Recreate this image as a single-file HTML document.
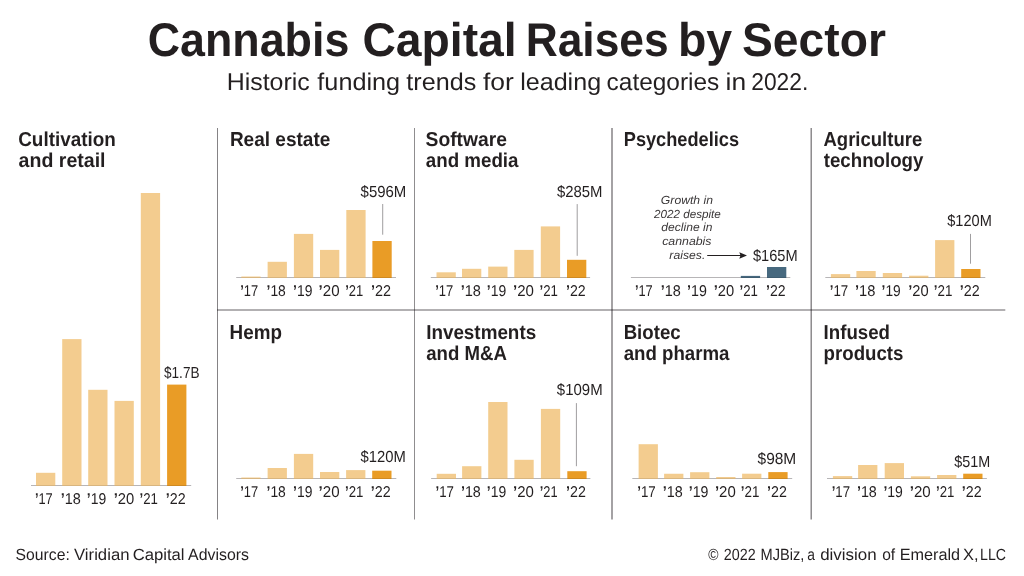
<!DOCTYPE html>
<html><head><meta charset="utf-8"><style>
html,body{margin:0;padding:0;background:#fff;width:1024px;height:576px;overflow:hidden}
#w{opacity:0.99;will-change:opacity;width:1024px;height:576px}
svg{display:block}
text{font-family:"Liberation Sans",sans-serif;text-rendering:geometricPrecision;fill:#211d1e}
</style></head><body>
<div id="w"><svg width="1024" height="576" viewBox="0 0 1024 576">
<rect x="217.00" y="128.00" width="1.00" height="391.50" fill="#848284"/>
<rect x="414.00" y="128.00" width="1.00" height="391.50" fill="#8e8c8e"/>
<rect x="611.00" y="128.00" width="2.00" height="391.50" fill="#a3a1a3"/>
<rect x="810.00" y="128.00" width="1.00" height="391.50" fill="#c3c1c3"/>
<rect x="811.00" y="128.00" width="1.00" height="391.50" fill="#8e8c8e"/>
<rect x="217.00" y="309.00" width="788.30" height="2.00" fill="#b2b0b2" style="mix-blend-mode:multiply"/>
<rect x="36.00" y="472.80" width="19.30" height="12.20" fill="#f3cc8e"/>
<rect x="62.20" y="339.10" width="19.30" height="145.90" fill="#f3cc8e"/>
<rect x="88.20" y="389.80" width="19.30" height="95.20" fill="#f3cc8e"/>
<rect x="114.50" y="400.90" width="19.30" height="84.10" fill="#f3cc8e"/>
<rect x="140.80" y="193.00" width="19.30" height="292.00" fill="#f3cc8e"/>
<rect x="167.10" y="384.60" width="19.30" height="100.40" fill="#e99b24"/>
<rect x="31.00" y="485.00" width="160.20" height="1.00" fill="#b7b5b7"/>
<rect x="36.00" y="485.00" width="19.30" height="1.00" fill="#d8b57e"/>
<rect x="62.20" y="485.00" width="19.30" height="1.00" fill="#d8b57e"/>
<rect x="88.20" y="485.00" width="19.30" height="1.00" fill="#d8b57e"/>
<rect x="114.50" y="485.00" width="19.30" height="1.00" fill="#d8b57e"/>
<rect x="140.80" y="485.00" width="19.30" height="1.00" fill="#d8b57e"/>
<rect x="167.10" y="485.00" width="19.30" height="1.00" fill="#cf8920"/>
<rect x="241.30" y="276.50" width="19.30" height="0.50" fill="#f3cc8e"/>
<rect x="267.60" y="261.80" width="19.30" height="15.20" fill="#f3cc8e"/>
<rect x="293.90" y="233.90" width="19.30" height="43.10" fill="#f3cc8e"/>
<rect x="320.00" y="249.90" width="19.30" height="27.10" fill="#f3cc8e"/>
<rect x="346.30" y="210.00" width="19.30" height="67.00" fill="#f3cc8e"/>
<rect x="372.40" y="241.00" width="19.30" height="36.00" fill="#e99b24"/>
<rect x="236.20" y="277.00" width="159.80" height="1.00" fill="#b7b5b7"/>
<rect x="241.30" y="277.00" width="19.30" height="1.00" fill="#d8b57e"/>
<rect x="267.60" y="277.00" width="19.30" height="1.00" fill="#d8b57e"/>
<rect x="293.90" y="277.00" width="19.30" height="1.00" fill="#d8b57e"/>
<rect x="320.00" y="277.00" width="19.30" height="1.00" fill="#d8b57e"/>
<rect x="346.30" y="277.00" width="19.30" height="1.00" fill="#d8b57e"/>
<rect x="372.40" y="277.00" width="19.30" height="1.00" fill="#cf8920"/>
<rect x="382.20" y="204.00" width="1.00" height="30.70" fill="#9f9d9f"/>
<rect x="436.50" y="272.30" width="19.30" height="4.70" fill="#f3cc8e"/>
<rect x="462.00" y="268.80" width="19.30" height="8.20" fill="#f3cc8e"/>
<rect x="488.20" y="266.60" width="19.30" height="10.40" fill="#f3cc8e"/>
<rect x="514.30" y="249.90" width="19.30" height="27.10" fill="#f3cc8e"/>
<rect x="540.80" y="226.40" width="19.30" height="50.60" fill="#f3cc8e"/>
<rect x="567.00" y="259.80" width="19.30" height="17.20" fill="#e99b24"/>
<rect x="430.80" y="277.00" width="159.30" height="1.00" fill="#b7b5b7"/>
<rect x="436.50" y="277.00" width="19.30" height="1.00" fill="#d8b57e"/>
<rect x="462.00" y="277.00" width="19.30" height="1.00" fill="#d8b57e"/>
<rect x="488.20" y="277.00" width="19.30" height="1.00" fill="#d8b57e"/>
<rect x="514.30" y="277.00" width="19.30" height="1.00" fill="#d8b57e"/>
<rect x="540.80" y="277.00" width="19.30" height="1.00" fill="#d8b57e"/>
<rect x="567.00" y="277.00" width="19.30" height="1.00" fill="#cf8920"/>
<rect x="576.70" y="204.10" width="1.00" height="51.70" fill="#9f9d9f"/>
<rect x="740.80" y="275.90" width="19.30" height="1.10" fill="#45687e"/>
<rect x="767.00" y="267.00" width="19.30" height="10.00" fill="#45687e"/>
<rect x="630.90" y="277.00" width="159.40" height="1.00" fill="#b7b5b7"/>
<rect x="740.80" y="277.00" width="19.30" height="1.00" fill="#3d5c70"/>
<rect x="767.00" y="277.00" width="19.30" height="1.00" fill="#3d5c70"/>
<rect x="830.90" y="274.10" width="19.30" height="2.90" fill="#f3cc8e"/>
<rect x="856.40" y="271.00" width="19.30" height="6.00" fill="#f3cc8e"/>
<rect x="882.80" y="273.00" width="19.30" height="4.00" fill="#f3cc8e"/>
<rect x="909.10" y="275.70" width="19.30" height="1.30" fill="#f3cc8e"/>
<rect x="935.10" y="240.10" width="19.30" height="36.90" fill="#f3cc8e"/>
<rect x="961.20" y="269.00" width="19.30" height="8.00" fill="#e99b24"/>
<rect x="825.30" y="277.00" width="160.00" height="1.00" fill="#b7b5b7"/>
<rect x="830.90" y="277.00" width="19.30" height="1.00" fill="#d8b57e"/>
<rect x="856.40" y="277.00" width="19.30" height="1.00" fill="#d8b57e"/>
<rect x="882.80" y="277.00" width="19.30" height="1.00" fill="#d8b57e"/>
<rect x="909.10" y="277.00" width="19.30" height="1.00" fill="#d8b57e"/>
<rect x="935.10" y="277.00" width="19.30" height="1.00" fill="#d8b57e"/>
<rect x="961.20" y="277.00" width="19.30" height="1.00" fill="#cf8920"/>
<rect x="970.00" y="233.90" width="1.00" height="29.80" fill="#9f9d9f"/>
<rect x="241.30" y="477.50" width="19.30" height="0.50" fill="#f3cc8e"/>
<rect x="267.60" y="468.00" width="19.30" height="10.00" fill="#f3cc8e"/>
<rect x="293.90" y="453.90" width="19.30" height="24.10" fill="#f3cc8e"/>
<rect x="320.00" y="472.00" width="19.30" height="6.00" fill="#f3cc8e"/>
<rect x="346.10" y="470.10" width="19.30" height="7.90" fill="#f3cc8e"/>
<rect x="372.20" y="470.70" width="19.30" height="7.30" fill="#e99b24"/>
<rect x="236.20" y="478.00" width="160.10" height="1.00" fill="#b7b5b7"/>
<rect x="241.30" y="478.00" width="19.30" height="1.00" fill="#d8b57e"/>
<rect x="267.60" y="478.00" width="19.30" height="1.00" fill="#d8b57e"/>
<rect x="293.90" y="478.00" width="19.30" height="1.00" fill="#d8b57e"/>
<rect x="320.00" y="478.00" width="19.30" height="1.00" fill="#d8b57e"/>
<rect x="346.10" y="478.00" width="19.30" height="1.00" fill="#d8b57e"/>
<rect x="372.20" y="478.00" width="19.30" height="1.00" fill="#cf8920"/>
<rect x="436.70" y="473.80" width="19.30" height="4.20" fill="#f3cc8e"/>
<rect x="462.10" y="466.20" width="19.30" height="11.80" fill="#f3cc8e"/>
<rect x="488.20" y="402.00" width="19.30" height="76.00" fill="#f3cc8e"/>
<rect x="514.40" y="459.80" width="19.30" height="18.20" fill="#f3cc8e"/>
<rect x="540.90" y="408.90" width="19.30" height="69.10" fill="#f3cc8e"/>
<rect x="567.30" y="471.20" width="19.30" height="6.80" fill="#e99b24"/>
<rect x="431.10" y="478.00" width="159.30" height="1.00" fill="#b7b5b7"/>
<rect x="436.70" y="478.00" width="19.30" height="1.00" fill="#d8b57e"/>
<rect x="462.10" y="478.00" width="19.30" height="1.00" fill="#d8b57e"/>
<rect x="488.20" y="478.00" width="19.30" height="1.00" fill="#d8b57e"/>
<rect x="514.40" y="478.00" width="19.30" height="1.00" fill="#d8b57e"/>
<rect x="540.90" y="478.00" width="19.30" height="1.00" fill="#d8b57e"/>
<rect x="567.30" y="478.00" width="19.30" height="1.00" fill="#cf8920"/>
<rect x="575.90" y="403.10" width="1.00" height="63.10" fill="#9f9d9f"/>
<rect x="638.60" y="444.20" width="19.30" height="33.80" fill="#f3cc8e"/>
<rect x="664.10" y="473.75" width="19.30" height="4.25" fill="#f3cc8e"/>
<rect x="690.10" y="472.20" width="19.30" height="5.80" fill="#f3cc8e"/>
<rect x="716.20" y="477.00" width="19.30" height="1.00" fill="#f3cc8e"/>
<rect x="742.10" y="473.70" width="19.30" height="4.30" fill="#f3cc8e"/>
<rect x="768.30" y="472.10" width="19.30" height="5.90" fill="#e99b24"/>
<rect x="632.30" y="478.00" width="159.90" height="1.00" fill="#b7b5b7"/>
<rect x="638.60" y="478.00" width="19.30" height="1.00" fill="#d8b57e"/>
<rect x="664.10" y="478.00" width="19.30" height="1.00" fill="#d8b57e"/>
<rect x="690.10" y="478.00" width="19.30" height="1.00" fill="#d8b57e"/>
<rect x="716.20" y="478.00" width="19.30" height="1.00" fill="#d8b57e"/>
<rect x="742.10" y="478.00" width="19.30" height="1.00" fill="#d8b57e"/>
<rect x="768.30" y="478.00" width="19.30" height="1.00" fill="#cf8920"/>
<rect x="832.90" y="476.10" width="19.30" height="1.90" fill="#f3cc8e"/>
<rect x="858.10" y="465.00" width="19.30" height="13.00" fill="#f3cc8e"/>
<rect x="884.70" y="463.10" width="19.30" height="14.90" fill="#f3cc8e"/>
<rect x="910.90" y="476.30" width="19.30" height="1.70" fill="#f3cc8e"/>
<rect x="937.10" y="475.00" width="19.30" height="3.00" fill="#f3cc8e"/>
<rect x="963.20" y="473.70" width="19.30" height="4.30" fill="#e99b24"/>
<rect x="827.00" y="478.00" width="159.90" height="1.00" fill="#b7b5b7"/>
<rect x="832.90" y="478.00" width="19.30" height="1.00" fill="#d8b57e"/>
<rect x="858.10" y="478.00" width="19.30" height="1.00" fill="#d8b57e"/>
<rect x="884.70" y="478.00" width="19.30" height="1.00" fill="#d8b57e"/>
<rect x="910.90" y="478.00" width="19.30" height="1.00" fill="#d8b57e"/>
<rect x="937.10" y="478.00" width="19.30" height="1.00" fill="#d8b57e"/>
<rect x="963.20" y="478.00" width="19.30" height="1.00" fill="#cf8920"/>
<line x1="707.2" y1="255.5" x2="741" y2="255.5" stroke="#211d1e" stroke-width="1.1"/>
<path d="M747.0,255.5 L739.3,252.3 L740.5,255.5 L739.3,258.7 Z" fill="#211d1e"/>
<text id="cult_y17" x="34.89" y="503.80" font-size="15.6" textLength="17.82" lengthAdjust="spacingAndGlyphs"><tspan font-weight="bold">’</tspan>17</text>
<text id="cult_y18" x="60.81" y="503.80" font-size="15.6" textLength="20.13" lengthAdjust="spacingAndGlyphs"><tspan font-weight="bold">’</tspan>18</text>
<text id="cult_y19" x="86.84" y="503.80" font-size="15.6" textLength="19.39" lengthAdjust="spacingAndGlyphs"><tspan font-weight="bold">’</tspan>19</text>
<text id="cult_y20" x="113.65" y="503.80" font-size="15.6" textLength="20.55" lengthAdjust="spacingAndGlyphs"><tspan font-weight="bold">’</tspan>20</text>
<text id="cult_y21" x="139.57" y="503.80" font-size="15.6" textLength="18.39" lengthAdjust="spacingAndGlyphs"><tspan font-weight="bold">’</tspan>21</text>
<text id="cult_y22" x="165.74" y="503.80" font-size="15.6" textLength="19.89" lengthAdjust="spacingAndGlyphs"><tspan font-weight="bold">’</tspan>22</text>
<text id="cult_h0" x="18.21" y="145.90" font-size="20.2" font-weight="bold" textLength="97.63" lengthAdjust="spacingAndGlyphs">Cultivation</text>
<text id="cult_h1" x="18.56" y="166.90" font-size="20.2" font-weight="bold" textLength="86.98" lengthAdjust="spacingAndGlyphs">and retail</text>
<text id="cult_v" x="164.00" y="377.70" font-size="16.1" textLength="35.50" lengthAdjust="spacingAndGlyphs">$1.7B</text>
<text id="real_y17" x="240.19" y="295.80" font-size="15.6" textLength="17.91" lengthAdjust="spacingAndGlyphs"><tspan font-weight="bold">’</tspan>17</text>
<text id="real_y18" x="266.53" y="295.80" font-size="15.6" textLength="19.30" lengthAdjust="spacingAndGlyphs"><tspan font-weight="bold">’</tspan>18</text>
<text id="real_y19" x="293.12" y="295.80" font-size="15.6" textLength="19.30" lengthAdjust="spacingAndGlyphs"><tspan font-weight="bold">’</tspan>19</text>
<text id="real_y20" x="318.59" y="295.80" font-size="15.6" textLength="20.97" lengthAdjust="spacingAndGlyphs"><tspan font-weight="bold">’</tspan>20</text>
<text id="real_y21" x="345.19" y="295.80" font-size="15.6" textLength="18.06" lengthAdjust="spacingAndGlyphs"><tspan font-weight="bold">’</tspan>21</text>
<text id="real_y22" x="370.98" y="295.80" font-size="15.6" textLength="20.05" lengthAdjust="spacingAndGlyphs"><tspan font-weight="bold">’</tspan>22</text>
<text id="real_h0" x="229.88" y="145.90" font-size="20.2" font-weight="bold" textLength="100.45" lengthAdjust="spacingAndGlyphs">Real estate</text>
<text id="real_v" x="360.60" y="196.80" font-size="16.1" textLength="45.73" lengthAdjust="spacingAndGlyphs">$596M</text>
<text id="soft_y17" x="435.23" y="295.80" font-size="15.6" textLength="18.06" lengthAdjust="spacingAndGlyphs"><tspan font-weight="bold">’</tspan>17</text>
<text id="soft_y18" x="460.63" y="295.80" font-size="15.6" textLength="20.25" lengthAdjust="spacingAndGlyphs"><tspan font-weight="bold">’</tspan>18</text>
<text id="soft_y19" x="486.82" y="295.80" font-size="15.6" textLength="19.42" lengthAdjust="spacingAndGlyphs"><tspan font-weight="bold">’</tspan>19</text>
<text id="soft_y20" x="513.06" y="295.80" font-size="15.6" textLength="20.92" lengthAdjust="spacingAndGlyphs"><tspan font-weight="bold">’</tspan>20</text>
<text id="soft_y21" x="539.55" y="295.80" font-size="15.6" textLength="18.43" lengthAdjust="spacingAndGlyphs"><tspan font-weight="bold">’</tspan>21</text>
<text id="soft_y22" x="565.99" y="295.80" font-size="15.6" textLength="19.74" lengthAdjust="spacingAndGlyphs"><tspan font-weight="bold">’</tspan>22</text>
<text id="soft_h0" x="425.55" y="145.90" font-size="20.2" font-weight="bold" textLength="81.46" lengthAdjust="spacingAndGlyphs">Software</text>
<text id="soft_h1" x="425.79" y="166.90" font-size="20.2" font-weight="bold" textLength="92.69" lengthAdjust="spacingAndGlyphs">and media</text>
<text id="soft_v" x="557.00" y="196.80" font-size="16.1" textLength="45.52" lengthAdjust="spacingAndGlyphs">$285M</text>
<text id="psy_y17" x="634.89" y="295.80" font-size="15.6" textLength="17.82" lengthAdjust="spacingAndGlyphs"><tspan font-weight="bold">’</tspan>17</text>
<text id="psy_y18" x="660.81" y="295.80" font-size="15.6" textLength="20.13" lengthAdjust="spacingAndGlyphs"><tspan font-weight="bold">’</tspan>18</text>
<text id="psy_y19" x="687.01" y="295.80" font-size="15.6" textLength="19.79" lengthAdjust="spacingAndGlyphs"><tspan font-weight="bold">’</tspan>19</text>
<text id="psy_y20" x="713.64" y="295.80" font-size="15.6" textLength="20.48" lengthAdjust="spacingAndGlyphs"><tspan font-weight="bold">’</tspan>20</text>
<text id="psy_y21" x="739.57" y="295.80" font-size="15.6" textLength="18.39" lengthAdjust="spacingAndGlyphs"><tspan font-weight="bold">’</tspan>21</text>
<text id="psy_y22" x="766.00" y="295.80" font-size="15.6" textLength="19.59" lengthAdjust="spacingAndGlyphs"><tspan font-weight="bold">’</tspan>22</text>
<text id="psy_h0" x="623.76" y="145.90" font-size="20.2" font-weight="bold" textLength="115.26" lengthAdjust="spacingAndGlyphs">Psychedelics</text>
<text id="psy_v" x="752.91" y="260.80" font-size="16.1" textLength="44.72" lengthAdjust="spacingAndGlyphs">$165M</text>
<text id="agri_y17" x="829.75" y="295.80" font-size="15.6" textLength="18.45" lengthAdjust="spacingAndGlyphs"><tspan font-weight="bold">’</tspan>17</text>
<text id="agri_y18" x="854.95" y="295.80" font-size="15.6" textLength="20.40" lengthAdjust="spacingAndGlyphs"><tspan font-weight="bold">’</tspan>18</text>
<text id="agri_y19" x="881.62" y="295.80" font-size="15.6" textLength="19.13" lengthAdjust="spacingAndGlyphs"><tspan font-weight="bold">’</tspan>19</text>
<text id="agri_y20" x="908.22" y="295.80" font-size="15.6" textLength="20.44" lengthAdjust="spacingAndGlyphs"><tspan font-weight="bold">’</tspan>20</text>
<text id="agri_y21" x="933.76" y="295.80" font-size="15.6" textLength="18.60" lengthAdjust="spacingAndGlyphs"><tspan font-weight="bold">’</tspan>21</text>
<text id="agri_y22" x="959.85" y="295.80" font-size="15.6" textLength="19.90" lengthAdjust="spacingAndGlyphs"><tspan font-weight="bold">’</tspan>22</text>
<text id="agri_h0" x="823.47" y="145.90" font-size="20.2" font-weight="bold" textLength="98.74" lengthAdjust="spacingAndGlyphs">Agriculture</text>
<text id="agri_h1" x="823.77" y="166.90" font-size="20.2" font-weight="bold" textLength="99.57" lengthAdjust="spacingAndGlyphs">technology</text>
<text id="agri_v" x="947.25" y="226.10" font-size="16.1" textLength="44.57" lengthAdjust="spacingAndGlyphs">$120M</text>
<text id="hemp_y17" x="240.19" y="496.80" font-size="15.6" textLength="17.91" lengthAdjust="spacingAndGlyphs"><tspan font-weight="bold">’</tspan>17</text>
<text id="hemp_y18" x="266.53" y="496.80" font-size="15.6" textLength="19.30" lengthAdjust="spacingAndGlyphs"><tspan font-weight="bold">’</tspan>18</text>
<text id="hemp_y19" x="293.12" y="496.80" font-size="15.6" textLength="19.30" lengthAdjust="spacingAndGlyphs"><tspan font-weight="bold">’</tspan>19</text>
<text id="hemp_y20" x="318.59" y="496.80" font-size="15.6" textLength="20.97" lengthAdjust="spacingAndGlyphs"><tspan font-weight="bold">’</tspan>20</text>
<text id="hemp_y21" x="344.98" y="496.80" font-size="15.6" textLength="18.38" lengthAdjust="spacingAndGlyphs"><tspan font-weight="bold">’</tspan>21</text>
<text id="hemp_y22" x="370.86" y="496.80" font-size="15.6" textLength="19.89" lengthAdjust="spacingAndGlyphs"><tspan font-weight="bold">’</tspan>22</text>
<text id="hemp_h0" x="229.59" y="338.70" font-size="20.2" font-weight="bold" textLength="52.30" lengthAdjust="spacingAndGlyphs">Hemp</text>
<text id="hemp_v" x="360.52" y="462.00" font-size="16.1" textLength="45.25" lengthAdjust="spacingAndGlyphs">$120M</text>
<text id="inv_y17" x="435.54" y="496.80" font-size="15.6" textLength="18.42" lengthAdjust="spacingAndGlyphs"><tspan font-weight="bold">’</tspan>17</text>
<text id="inv_y18" x="460.89" y="496.80" font-size="15.6" textLength="19.94" lengthAdjust="spacingAndGlyphs"><tspan font-weight="bold">’</tspan>18</text>
<text id="inv_y19" x="486.82" y="496.80" font-size="15.6" textLength="19.42" lengthAdjust="spacingAndGlyphs"><tspan font-weight="bold">’</tspan>19</text>
<text id="inv_y20" x="513.06" y="496.80" font-size="15.6" textLength="20.85" lengthAdjust="spacingAndGlyphs"><tspan font-weight="bold">’</tspan>20</text>
<text id="inv_y21" x="539.72" y="496.80" font-size="15.6" textLength="17.87" lengthAdjust="spacingAndGlyphs"><tspan font-weight="bold">’</tspan>21</text>
<text id="inv_y22" x="566.11" y="496.80" font-size="15.6" textLength="19.80" lengthAdjust="spacingAndGlyphs"><tspan font-weight="bold">’</tspan>22</text>
<text id="inv_h0" x="426.15" y="338.70" font-size="20.2" font-weight="bold" textLength="110.02" lengthAdjust="spacingAndGlyphs">Investments</text>
<text id="inv_h1" x="426.20" y="359.80" font-size="20.2" font-weight="bold" textLength="80.66" lengthAdjust="spacingAndGlyphs">and M&amp;A</text>
<text id="inv_v" x="556.86" y="394.70" font-size="16.1" textLength="45.77" lengthAdjust="spacingAndGlyphs">$109M</text>
<text id="bio_y17" x="637.25" y="496.80" font-size="15.6" textLength="18.53" lengthAdjust="spacingAndGlyphs"><tspan font-weight="bold">’</tspan>17</text>
<text id="bio_y18" x="662.86" y="496.80" font-size="15.6" textLength="19.98" lengthAdjust="spacingAndGlyphs"><tspan font-weight="bold">’</tspan>18</text>
<text id="bio_y19" x="688.73" y="496.80" font-size="15.6" textLength="19.69" lengthAdjust="spacingAndGlyphs"><tspan font-weight="bold">’</tspan>19</text>
<text id="bio_y20" x="714.94" y="496.80" font-size="15.6" textLength="20.81" lengthAdjust="spacingAndGlyphs"><tspan font-weight="bold">’</tspan>20</text>
<text id="bio_y21" x="740.76" y="496.80" font-size="15.6" textLength="18.60" lengthAdjust="spacingAndGlyphs"><tspan font-weight="bold">’</tspan>21</text>
<text id="bio_y22" x="767.11" y="496.80" font-size="15.6" textLength="19.82" lengthAdjust="spacingAndGlyphs"><tspan font-weight="bold">’</tspan>22</text>
<text id="bio_h0" x="623.66" y="338.70" font-size="20.2" font-weight="bold" textLength="57.00" lengthAdjust="spacingAndGlyphs">Biotec</text>
<text id="bio_h1" x="623.63" y="359.80" font-size="20.2" font-weight="bold" textLength="105.83" lengthAdjust="spacingAndGlyphs">and pharma</text>
<text id="bio_v" x="757.53" y="464.00" font-size="16.1" textLength="38.75" lengthAdjust="spacingAndGlyphs">$98M</text>
<text id="inf_y17" x="831.70" y="496.80" font-size="15.6" textLength="18.36" lengthAdjust="spacingAndGlyphs"><tspan font-weight="bold">’</tspan>17</text>
<text id="inf_y18" x="856.89" y="496.80" font-size="15.6" textLength="19.94" lengthAdjust="spacingAndGlyphs"><tspan font-weight="bold">’</tspan>18</text>
<text id="inf_y19" x="883.39" y="496.80" font-size="15.6" textLength="19.46" lengthAdjust="spacingAndGlyphs"><tspan font-weight="bold">’</tspan>19</text>
<text id="inf_y20" x="909.69" y="496.80" font-size="15.6" textLength="20.95" lengthAdjust="spacingAndGlyphs"><tspan font-weight="bold">’</tspan>20</text>
<text id="inf_y21" x="935.98" y="496.80" font-size="15.6" textLength="18.38" lengthAdjust="spacingAndGlyphs"><tspan font-weight="bold">’</tspan>21</text>
<text id="inf_y22" x="961.86" y="496.80" font-size="15.6" textLength="19.89" lengthAdjust="spacingAndGlyphs"><tspan font-weight="bold">’</tspan>22</text>
<text id="inf_h0" x="823.60" y="338.70" font-size="20.2" font-weight="bold" textLength="66.40" lengthAdjust="spacingAndGlyphs">Infused</text>
<text id="inf_h1" x="823.59" y="359.80" font-size="20.2" font-weight="bold" textLength="79.87" lengthAdjust="spacingAndGlyphs">products</text>
<text id="inf_v" x="954.26" y="467.00" font-size="16.1" textLength="35.95" lengthAdjust="spacingAndGlyphs">$51M</text>
<text id="title_w0" x="147.73" y="55.80" font-size="47.4" font-weight="bold" textLength="201.61" lengthAdjust="spacingAndGlyphs">Cannabis</text>
<text id="title_w1" x="362.38" y="55.80" font-size="47.4" font-weight="bold" textLength="154.31" lengthAdjust="spacingAndGlyphs">Capital</text>
<text id="title_w2" x="525.63" y="55.80" font-size="47.4" font-weight="bold" textLength="143.07" lengthAdjust="spacingAndGlyphs">Raises</text>
<text id="title_w3" x="677.99" y="55.80" font-size="47.4" font-weight="bold" textLength="54.21" lengthAdjust="spacingAndGlyphs">by</text>
<text id="title_w4" x="742.04" y="55.80" font-size="47.4" font-weight="bold" textLength="143.84" lengthAdjust="spacingAndGlyphs">Sector</text>
<text id="sub_w0" x="226.70" y="89.60" font-size="24.2" textLength="83.06" lengthAdjust="spacingAndGlyphs">Historic</text>
<text id="sub_w1" x="317.34" y="89.60" font-size="24.2" textLength="82.84" lengthAdjust="spacingAndGlyphs">funding</text>
<text id="sub_w2" x="406.39" y="89.60" font-size="24.2" textLength="69.83" lengthAdjust="spacingAndGlyphs">trends</text>
<text id="sub_w3" x="483.00" y="89.60" font-size="24.2" textLength="30.88" lengthAdjust="spacingAndGlyphs">for</text>
<text id="sub_w4" x="520.15" y="89.60" font-size="24.2" textLength="80.98" lengthAdjust="spacingAndGlyphs">leading</text>
<text id="sub_w5" x="606.61" y="89.60" font-size="24.2" textLength="112.69" lengthAdjust="spacingAndGlyphs">categories</text>
<text id="sub_w6" x="725.52" y="89.60" font-size="24.2" textLength="20.55" lengthAdjust="spacingAndGlyphs">in</text>
<text id="sub_w7" x="751.25" y="89.60" font-size="24.2" textLength="57.09" lengthAdjust="spacingAndGlyphs">2022.</text>
<text id="src_w0" x="15.58" y="559.90" font-size="16.2" textLength="54.19" lengthAdjust="spacingAndGlyphs">Source:</text>
<text id="src_w1" x="74.00" y="559.90" font-size="16.2" textLength="55.50" lengthAdjust="spacingAndGlyphs">Viridian</text>
<text id="src_w2" x="132.65" y="559.90" font-size="16.2" textLength="51.90" lengthAdjust="spacingAndGlyphs">Capital</text>
<text id="src_w3" x="188.08" y="559.90" font-size="16.2" textLength="60.86" lengthAdjust="spacingAndGlyphs">Advisors</text>
<text id="copy_w0" x="708.29" y="559.90" font-size="16.2" textLength="10.24" lengthAdjust="spacingAndGlyphs">©</text>
<text id="copy_w1" x="723.82" y="559.90" font-size="16.2" textLength="31.88" lengthAdjust="spacingAndGlyphs">2022</text>
<text id="copy_w2" x="760.48" y="559.90" font-size="16.2" textLength="43.85" lengthAdjust="spacingAndGlyphs">MJBiz,</text>
<text id="copy_w3" x="807.24" y="559.90" font-size="16.2" textLength="7.70" lengthAdjust="spacingAndGlyphs">a</text>
<text id="copy_w4" x="820.17" y="559.90" font-size="16.2" textLength="56.55" lengthAdjust="spacingAndGlyphs">division</text>
<text id="copy_w5" x="882.13" y="559.90" font-size="16.2" textLength="13.03" lengthAdjust="spacingAndGlyphs">of</text>
<text id="copy_w6" x="899.68" y="559.90" font-size="16.2" textLength="60.46" lengthAdjust="spacingAndGlyphs">Emerald</text>
<text id="copy_w7" x="963.05" y="559.90" font-size="16.2" textLength="15.49" lengthAdjust="spacingAndGlyphs">X,</text>
<text id="copy_w8" x="980.12" y="559.90" font-size="16.2" textLength="25.95" lengthAdjust="spacingAndGlyphs">LLC</text>
<text id="ann1" x="660.87" y="203.70" font-size="11.7" font-style="italic" textLength="52.12" lengthAdjust="spacingAndGlyphs" style="fill:#383536">Growth in</text>
<text id="ann2" x="653.90" y="217.50" font-size="11.7" font-style="italic" textLength="66.92" lengthAdjust="spacingAndGlyphs" style="fill:#383536">2022 despite</text>
<text id="ann3" x="661.38" y="231.40" font-size="11.7" font-style="italic" textLength="51.03" lengthAdjust="spacingAndGlyphs" style="fill:#383536">decline in</text>
<text id="ann4" x="662.21" y="244.90" font-size="11.7" font-style="italic" textLength="49.33" lengthAdjust="spacingAndGlyphs" style="fill:#383536">cannabis</text>
<text id="ann5" x="669.39" y="258.50" font-size="11.7" font-style="italic" textLength="35.91" lengthAdjust="spacingAndGlyphs" style="fill:#383536">raises.</text>
</svg></div>
</body></html>
